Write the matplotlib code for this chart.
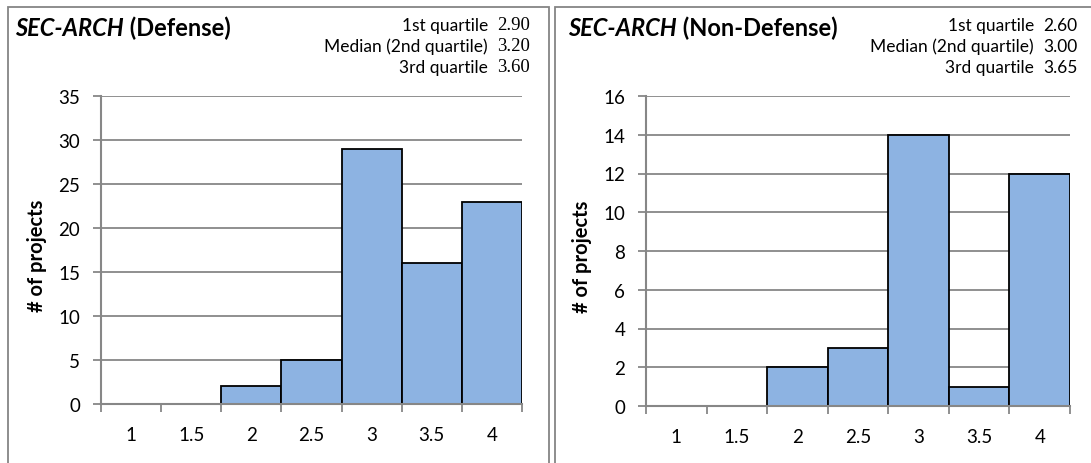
import matplotlib
matplotlib.use("Agg")
import matplotlib.pyplot as plt
from matplotlib.patches import Rectangle

plt.rcParams['font.family'] = ['Lato', 'DejaVu Sans']

# data
categories = ["1", "1.5", "2", "2.5", "3", "3.5", "4"]
defense_counts = [0, 0, 2, 5, 29, 16, 23]
nondefense_counts = [0, 0, 2, 3, 14, 1, 12]

defense_quartiles = ["2.90", "3.20", "3.60"]
nondefense_quartiles = ["2.60", "3.00", "3.65"]
quartile_names = ["1st quartile", "Median (2nd quartile)", "3rd quartile"]

BAR = "#8db3e2"
GRID = "#878787"
W, H = 1091, 464


def fx(px):
    return px / W


def fy(py):
    return 1 - py / H


# draws one histogram panel
def draw_panel(fig, rect, counts, ymax, ystep, name, quart, title_x, q_x, q_serif):
    ax = fig.add_axes(rect)
    x = [i + 0.5 for i in range(len(counts))]
    ax.bar(x, counts, width=1.0, color=BAR, edgecolor="black", linewidth=1.3, zorder=3)
    ax.set_xlim(0, len(counts))
    ax.set_ylim(0, ymax)
    ax.set_yticks(range(0, ymax + 1, ystep))
    ax.set_xticks(range(len(counts) + 1))
    ax.set_xticklabels([])
    ax.set_xticks(x, minor=True)
    ax.set_xticklabels(categories, minor=True)
    ax.tick_params(axis="x", which="minor", length=0, pad=16, labelsize=13.5)
    ax.tick_params(axis="x", which="major", length=6, width=1.3, color=GRID)
    ax.tick_params(axis="y", length=6, width=1.3, color=GRID, labelsize=13.5, pad=9)
    ax.yaxis.grid(True, color=GRID, linewidth=1.3, zorder=0)
    for s in ["top", "right"]:
        ax.spines[s].set_visible(False)
    for s in ["left", "bottom"]:
        ax.spines[s].set_color(GRID)
        ax.spines[s].set_linewidth(1.5)
        ax.spines[s].set_zorder(4)
    ax.set_axisbelow(True)

    # y label
    fig.text(fx(rect[0] * W - 64), 0.5 * (rect[1] + rect[1] + rect[3]) - 0.01,
             "# of projects", rotation=90, fontsize=14.5, fontweight="bold",
             ha="center", va="center")

    # title in two parts
    t1 = fig.text(fx(title_x), fy(29), "SEC-ARCH", fontsize=17, fontweight="bold",
                  fontstyle="italic", va="center", ha="left")
    ax.annotate(" (" + name + ")", xy=(1, 0), xycoords=t1, va="bottom", ha="left",
                fontsize=17, fontweight="bold", annotation_clip=False)

    # quartile block
    rows = [26, 47, 68]
    for label, val, ry in zip(quartile_names, quart, rows):
        fig.text(fx(q_x - 9), fy(ry), label, fontsize=12.5, ha="right", va="center")
        if q_serif:
            fig.text(fx(q_x), fy(ry), val, fontsize=13.5, ha="left", va="center",
                     family="Liberation Serif")
        else:
            fig.text(fx(q_x), fy(ry), val, fontsize=12.5, ha="left", va="center")
    return ax


fig = plt.figure(figsize=(W / 100, H / 100), dpi=100)

# panel frames
fig.patches.append(Rectangle((fx(8), fy(480)), fx(549 - 8), (480 - 8) / H,
                             transform=fig.transFigure, fill=False,
                             edgecolor="#858585", linewidth=1.3))
fig.patches.append(Rectangle((fx(555), fy(480)), fx(1110 - 555), (480 - 8) / H,
                             transform=fig.transFigure, fill=False,
                             edgecolor="#858585", linewidth=1.3))

draw_panel(fig, [fx(101), fy(405), fx(421), (405 - 97) / H], defense_counts, 35, 5,
           "Defense", defense_quartiles, 15, 497, True)
draw_panel(fig, [fx(646), fy(407), fx(424), (407 - 97) / H], nondefense_counts, 16, 2,
           "Non-Defense", nondefense_quartiles, 568, 1043, False)

fig.savefig("out.png", dpi=100)
